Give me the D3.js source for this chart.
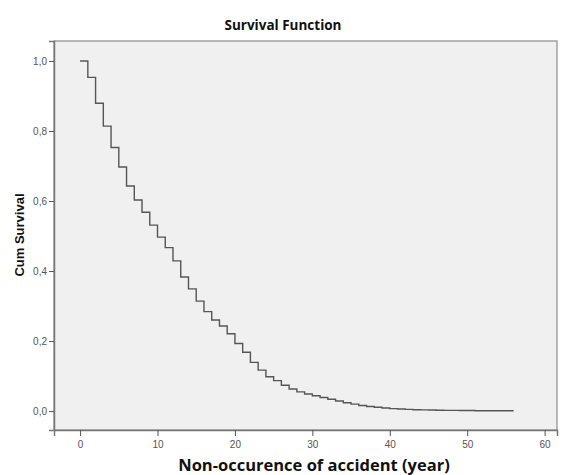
<!DOCTYPE html>
<html>
<head>
<meta charset="utf-8">
<script src="https://cdn.jsdelivr.net/npm/d3@7"></script>
<style>
  body { margin: 0; background: #fff; }
  svg { display: block; }
</style>
</head>
<body>
<div id="chart"></div>
<script>
// Kaplan-Meier step data
const years = [0, 1, 2, 3, 4, 5, 6, 7, 8, 9, 10, 11, 12, 13, 14, 15, 16, 17, 18, 19,
  20, 21, 22, 23, 24, 25, 26, 27, 28, 29, 30, 31, 32, 33, 34, 35, 36, 37, 38, 39,
  40, 41, 42, 43, 44, 45, 46, 47, 48, 49, 50, 51, 52, 53, 54, 55, 56];
const survival = [1.0, 0.953, 0.879, 0.814, 0.753, 0.697, 0.643, 0.603, 0.568, 0.531,
  0.497, 0.467, 0.429, 0.383, 0.349, 0.314, 0.284, 0.260, 0.243, 0.221,
  0.193, 0.168, 0.139, 0.117, 0.098, 0.087, 0.074, 0.063, 0.055, 0.049,
  0.044, 0.039, 0.034, 0.029, 0.024, 0.020, 0.016, 0.013, 0.011, 0.009,
  0.007, 0.006, 0.005, 0.004, 0.0035, 0.003, 0.0025, 0.002, 0.002, 0.0015,
  0.0015, 0.001, 0.001, 0.001, 0.001, 0.001, 0.001];
const xTicks = [0, 10, 20, 30, 40, 50, 60];
const yTicks = [0, 0.2, 0.4, 0.6, 0.8, 1.0];

const W = 566, H = 475;
const margin = { top: 41, right: 9, bottom: 45, left: 54 };
const width = W - margin.left - margin.right;
const height = H - margin.top - margin.bottom;

const svg = d3.select("#chart").append("svg")
    .attr("width", W)
    .attr("height", H);

const g = svg.append("g")
    .attr("transform", `translate(${margin.left},${margin.top})`);

const x = d3.scaleLinear().domain([-3.37, 61.6]).range([0, width]);
const y = d3.scaleLinear().domain([-0.054, 1.057]).range([height, 0]);

// plot background
g.append("rect")
    .attr("width", width)
    .attr("height", height)
    .attr("fill", "#f0f0f0")
    .attr("stroke", "#8c8c8c")
    .attr("stroke-width", 1.2);

const fmt = d => d3.format(".1f")(d).replace(".", ",");

// Y axis
const yAxis = g.append("g")
    .call(d3.axisLeft(y).tickValues(yTicks).tickFormat(fmt).tickSize(5).tickPadding(2));
yAxis.select(".domain").attr("stroke", "#777").attr("stroke-width", 1.5);
yAxis.selectAll(".tick line").attr("stroke", "#555");
yAxis.selectAll("text")
    .attr("fill", "#555")
    .style("font-family", "Liberation Sans, Arial, sans-serif")
    .style("font-size", "10px");

// X axis
const xAxis = g.append("g")
    .attr("transform", `translate(0,${height})`)
    .call(d3.axisBottom(x).tickValues(xTicks).tickSize(6).tickPadding(5));
xAxis.select(".domain").attr("stroke", "#777").attr("stroke-width", 1.5);
xAxis.selectAll(".tick line").attr("stroke", "#555");
xAxis.selectAll("text")
    .attr("fill", "#555")
    .style("font-family", "Liberation Sans, Arial, sans-serif")
    .style("font-size", "10px");

// survival step line
const data = years.map((t, i) => ({ t, s: survival[i] }));
const line = d3.line()
    .x(d => x(d.t))
    .y(d => y(d.s))
    .curve(d3.curveStepAfter);

g.append("path")
    .datum(data)
    .attr("fill", "none")
    .attr("stroke", "#555")
    .attr("stroke-width", 1.4)
    .attr("d", line);

// title
svg.append("text")
    .attr("x", 283)
    .attr("y", 30)
    .attr("text-anchor", "middle")
    .style("font-family", "Open Sans, sans-serif")
    .style("font-weight", "bold")
    .style("font-size", "13.5px")
    .attr("fill", "#111")
    .text("Survival Function");

// x label
svg.append("text")
    .attr("x", 314)
    .attr("y", 471)
    .attr("text-anchor", "middle")
    .style("font-family", "Open Sans, sans-serif")
    .style("font-weight", "bold")
    .style("font-size", "16.5px")
    .attr("fill", "#111")
    .text("Non-occurence of accident (year)");

// y label
svg.append("text")
    .attr("transform", "translate(24,235) rotate(-90)")
    .attr("text-anchor", "middle")
    .style("font-family", "Liberation Sans, Arial, sans-serif")
    .style("font-weight", "bold")
    .style("font-size", "13px")
    .attr("fill", "#111")
    .text("Cum Survival");
</script>
</body>
</html>
